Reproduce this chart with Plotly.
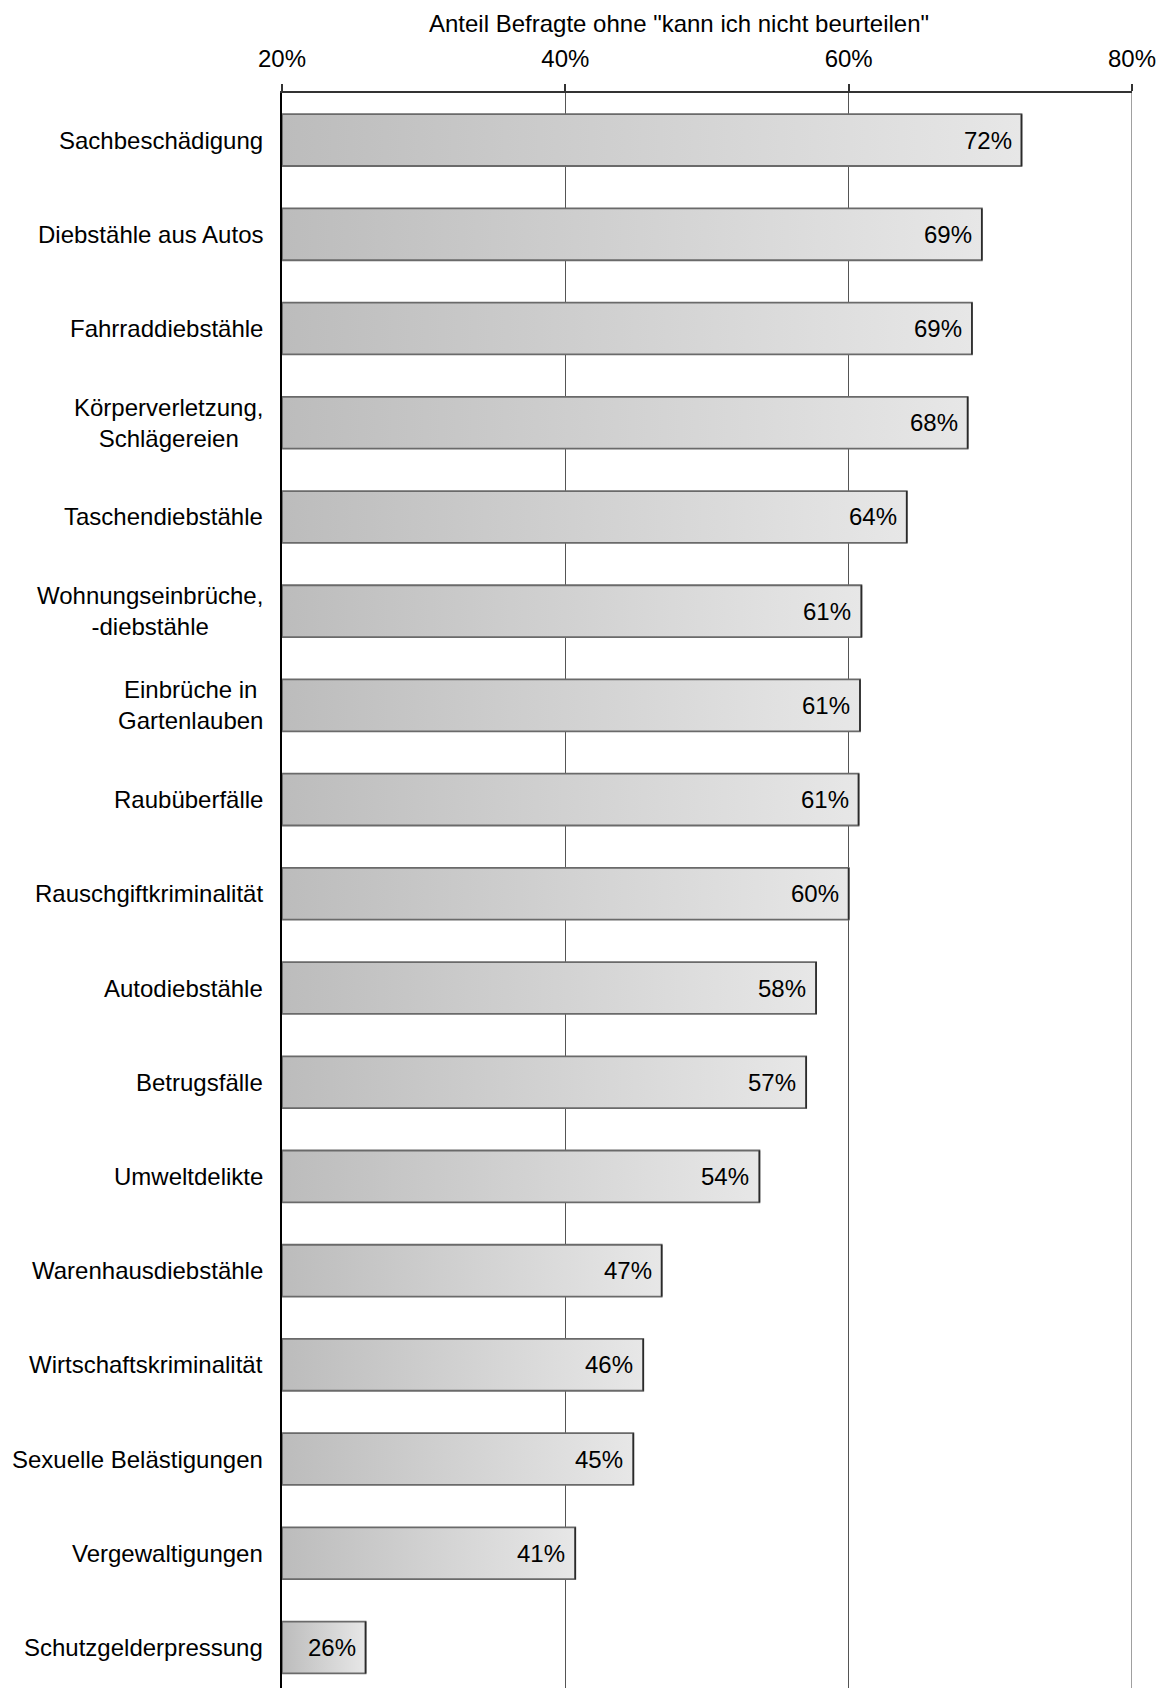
import plotly.graph_objects as go

categories = [
    "Sachbeschädigung", "Diebstähle aus Autos", "Fahrraddiebstähle",
    "Körperverletzung,<br>Schlägereien", "Taschendiebstähle",
    "Wohnungseinbrüche,<br>-diebstähle", "Einbrüche in<br>Gartenlauben",
    "Raubüberfälle", "Rauschgiftkriminalität", "Autodiebstähle",
    "Betrugsfälle", "Umweltdelikte", "Warenhausdiebstähle",
    "Wirtschaftskriminalität", "Sexuelle Belästigungen",
    "Vergewaltigungen", "Schutzgelderpressung",
]
values = [72.2, 69.4, 68.7, 68.4, 64.1, 60.9, 60.8, 60.7, 60.0,
          57.7, 57.0, 53.7, 46.8, 45.5, 44.8, 40.7, 25.9]
value_labels = ["72%", "69%", "69%", "68%", "64%", "61%", "61%", "61%", "60%",
                "58%", "57%", "54%", "47%", "46%", "45%", "41%", "26%"]
tick_values = [20, 40, 60, 80]
tick_labels = ["20%", "40%", "60%", "80%"]
x_title = 'Anteil Befragte ohne "kann ich nicht beurteilen"'

FONT = "Liberation Sans, Arial, sans-serif"
base = tick_values[0]
xmax = tick_values[-1]
half = 0.275
n = len(categories)

fig = go.Figure()
for i, (cat, v) in enumerate(zip(categories, values)):
    fig.add_trace(go.Scatter(
        x=[base, v, v, base, base],
        y=[i - half, i - half, i + half, i + half, i - half],
        mode="lines", fill="toself",
        fillgradient=dict(type="horizontal",
                          colorscale=[[0, "#bcbcbc"], [1, "#e7e7e7"]]),
        line=dict(color="#6a6a6a", width=1.8),
        hoverinfo="skip", showlegend=False,
    ))

# darker right-hand edges of the bars
edge_x, edge_y = [], []
for i, v in enumerate(values):
    edge_x += [v, v, None]
    edge_y += [i - half, i + half, None]
fig.add_trace(go.Scatter(
    x=edge_x, y=edge_y, mode="lines",
    line=dict(color="#2a2a2a", width=1.6),
    hoverinfo="skip", showlegend=False,
))

annotations = []
for i, (cat, v, lab) in enumerate(zip(categories, values, value_labels)):
    annotations.append(dict(
        x=v, y=i, xref="x", yref="y", text=lab, showarrow=False,
        xanchor="right", yanchor="middle", xshift=-8,
        font=dict(family=FONT, size=24, color="black"),
    ))
    annotations.append(dict(
        x=0, y=i, xref="paper", yref="y", text=cat, showarrow=False,
        xanchor="right", yanchor="middle", xshift=-17, align="center",
        font=dict(family=FONT, size=24, color="black"),
    ))
annotations.append(dict(
    x=0.467, y=1, xref="paper", yref="paper", text=x_title, showarrow=False,
    xanchor="center", yanchor="middle", yshift=70,
    font=dict(family=FONT, size=24, color="black"),
))

fig.update_layout(
    width=1156, height=1680,
    margin=dict(l=274, r=32, t=85, b=0, pad=0),
    paper_bgcolor="white", plot_bgcolor="white",
    font=dict(family=FONT, size=24, color="black"),
    annotations=annotations,
    shapes=[dict(type="line", xref="x", yref="paper", x0=xmax, x1=xmax,
                 y0=0, y1=1, line=dict(color="#808080", width=1.5),
                 layer="below")],
    xaxis=dict(
        side="top", range=[base, xmax], tickvals=tick_values,
        ticktext=tick_labels, ticks="outside", ticklen=7, tickwidth=1.5,
        tickcolor="#333333", showline=True, linecolor="#333333",
        linewidth=1.5, showgrid=True, gridcolor="#555555", gridwidth=1,
        zeroline=False, ticklabelstandoff=8,
        tickfont=dict(family=FONT, size=24, color="black"),
    ),
    yaxis=dict(
        range=[n - 0.57, -0.5], showticklabels=False, ticks="",
        showgrid=False, zeroline=False, showline=True,
        linecolor="black", linewidth=1.5,
    ),
)

fig.write_html("out.html")
